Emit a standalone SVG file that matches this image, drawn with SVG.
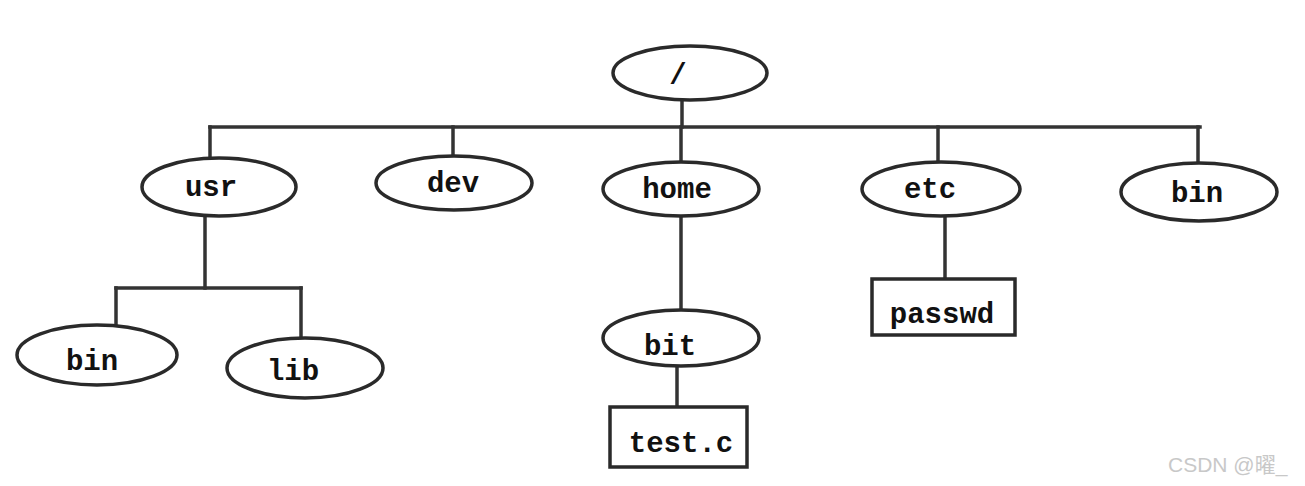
<svg xmlns="http://www.w3.org/2000/svg" width="1305" height="486" viewBox="0 0 1305 486">
<style>
.n ellipse{fill:#fff;stroke:#2a2a2a;stroke-width:3.5}
.n rect{fill:#fff;stroke:#2a2a2a;stroke-width:3.5}
.n text{font-family:"Liberation Mono",monospace;font-weight:bold;font-size:29px;fill:#111;text-anchor:middle}
#edges line{stroke:#333;stroke-width:3.5;stroke-linecap:square}
.wm{font-family:"Liberation Sans","Noto Sans CJK SC",sans-serif;font-size:21px;fill:#c8c8c8}
</style>
<rect width="1305" height="486" fill="#fff"/>
<g id="edges">
<line x1="682" y1="100" x2="682" y2="127"/>
<line x1="210" y1="127" x2="1200" y2="127"/>
<line x1="210" y1="127" x2="210" y2="158"/>
<line x1="453" y1="127" x2="453" y2="158"/>
<line x1="681" y1="127" x2="681" y2="162"/>
<line x1="938" y1="127" x2="938" y2="163"/>
<line x1="1198" y1="127" x2="1198" y2="164"/>
<line x1="205" y1="217" x2="205" y2="288"/>
<line x1="116" y1="288" x2="301" y2="288"/>
<line x1="116" y1="288" x2="116" y2="326"/>
<line x1="301" y1="288" x2="301" y2="338"/>
<line x1="681" y1="216" x2="681" y2="310"/>
<line x1="677" y1="367" x2="677" y2="407"/>
<line x1="945" y1="215" x2="945" y2="279"/>
</g>
<g id="root" class="n"><ellipse cx="690" cy="73" rx="77" ry="27"/><text x="678" y="84">/</text></g>
<g id="usr" class="n"><ellipse cx="219" cy="187" rx="77" ry="29"/><text x="211" y="196">usr</text></g>
<g id="dev" class="n"><ellipse cx="454" cy="183" rx="78" ry="27"/><text x="453" y="192">dev</text></g>
<g id="home" class="n"><ellipse cx="681" cy="189" rx="78" ry="27"/><text x="677" y="198">home</text></g>
<g id="etc" class="n"><ellipse cx="941" cy="189" rx="79" ry="27"/><text x="930" y="198">etc</text></g>
<g id="bin-top" class="n"><ellipse cx="1199" cy="192" rx="78" ry="29"/><text x="1197" y="202">bin</text></g>
<g id="bin-usr" class="n"><ellipse cx="97" cy="355" rx="80" ry="30"/><text x="92" y="370">bin</text></g>
<g id="lib" class="n"><ellipse cx="305" cy="368" rx="78" ry="30"/><text x="293" y="380">lib</text></g>
<g id="bit" class="n"><ellipse cx="681" cy="338" rx="78" ry="28"/><text x="670" y="355">bit</text></g>
<g id="testc" class="n"><rect x="610" y="407" width="137" height="60"/><text x="681" y="452">test.c</text></g>
<g id="passwd" class="n"><rect x="872" y="279" width="143" height="56"/><text x="942" y="323">passwd</text></g>
<text class="wm" x="1168" y="472">CSDN @曜_</text>
</svg>
